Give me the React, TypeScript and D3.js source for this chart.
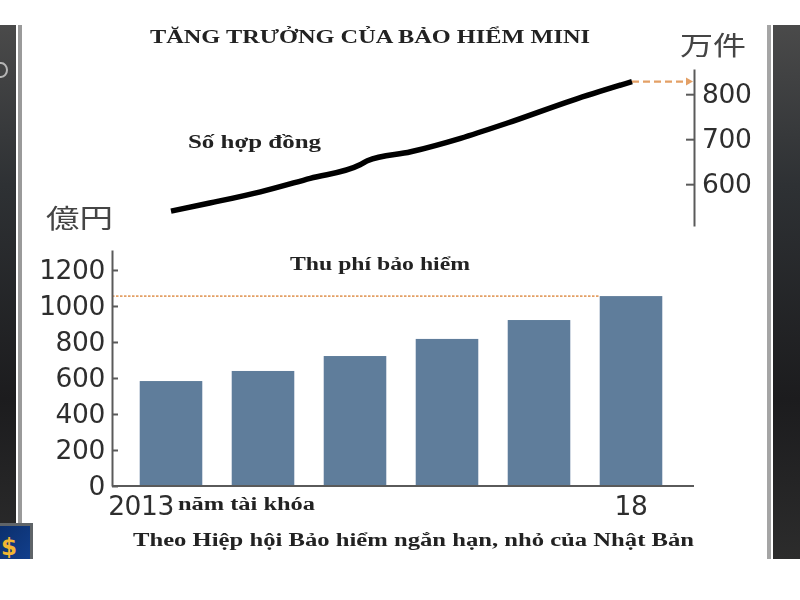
import { useEffect, useRef } from "react";
import * as d3 from "d3";

const YEARS = ["2013", "14", "15", "16", "17", "18"];
const PREMIUMS = [583, 639, 722, 817, 922, 1055];
const PREMIUM_TICKS = [0, 200, 400, 600, 800, 1000, 1200];
const CONTRACT_TICKS = [600, 700, 800];
// position along the year axis (0 = 2013, 5 = 2018)
const CONTRACT_T = [0, 0.42, 0.97, 1.51, 2.05, 2.13, 2.6, 3.14, 3.65, 4.36, 5];
const CONTRACT_VALUES = [540, 558, 583, 613, 643, 652, 672, 702, 736, 787, 828];

const TEXT_COLOR = "#2f2f2f";
const AXIS_COLOR = "#5a5a5a";
const BAR_COLOR = "#5f7d9b";
const DASH_COLOR = "#e3a066";
const SERIF = "'Liberation Serif', serif";
const SANS = "'DejaVu Sans', sans-serif";
const CJK = "'Noto Sans CJK JP', sans-serif";

const xBand = d3.scaleBand<string>().domain(YEARS).range([125, 677]).paddingInner(0.32).paddingOuter(0.16);
const yPremium = d3.scaleLinear().domain([0, 1311]).range([486, 250]);
const yContract = d3.scaleLinear().domain([507, 856]).range([226, 69]);
const xContract = d3
  .scaleLinear()
  .domain([0, 5])
  .range([
    (xBand("2013") as number) + xBand.bandwidth() / 2,
    (xBand("18") as number) + xBand.bandwidth() / 2 + 1,
  ]);

function Caption({ x, y, width, children }: { x: number; y: number; width: number; children: string }) {
  return (
    <text
      x={x}
      y={y}
      textLength={width}
      lengthAdjust="spacingAndGlyphs"
      fontFamily={SERIF}
      fontWeight="bold"
      fontSize={18}
      fill="#222"
    >
      {children}
    </text>
  );
}

function App() {
  const leftAxis = useRef<SVGGElement>(null);
  const rightAxis = useRef<SVGGElement>(null);

  useEffect(() => {
    const styleAxis = (g: d3.Selection<SVGGElement, unknown, null, undefined>) => {
      g.selectAll("path, line").attr("stroke", AXIS_COLOR).attr("stroke-width", 2);
      g.selectAll("text")
        .attr("fill", TEXT_COLOR)
        .attr("font-family", SANS)
        .attr("font-size", 26.5)
        .attr("letter-spacing", -0.4);
      g.attr("font-family", null).attr("font-size", null);
    };
    const left = d3.select(leftAxis.current as SVGGElement);
    left.call(
      d3.axisLeft(yPremium).tickValues(PREMIUM_TICKS).tickFormat(d3.format("d")).tickSize(-6).tickSizeOuter(0).tickPadding(7)
    );
    styleAxis(left);
    const right = d3.select(rightAxis.current as SVGGElement);
    right.call(
      d3.axisRight(yContract).tickValues(CONTRACT_TICKS).tickFormat(d3.format("d")).tickSize(-8).tickSizeOuter(0).tickPadding(8)
    );
    styleAxis(right);
  }, []);

  const line = d3
    .line<number>()
    .x((_, i) => xContract(CONTRACT_T[i]))
    .y((d) => yContract(d))
    .curve(d3.curveMonotoneX);

  const lastX = xContract(5);
  const lastY = yContract(CONTRACT_VALUES[CONTRACT_VALUES.length - 1]);
  const topBar = yPremium(PREMIUMS[PREMIUMS.length - 1]);

  return (
    <svg width={800} height={600} style={{ position: "absolute", left: 0, top: 0 }}>
      <defs>
        <linearGradient id="panel" x1="0" y1="0" x2="0" y2="1">
          <stop offset="0" stopColor="#4a4a4a" />
          <stop offset="0.3" stopColor="#2e3134" />
          <stop offset="0.7" stopColor="#1c1c1e" />
          <stop offset="1" stopColor="#2c2c2c" />
        </linearGradient>
        <linearGradient id="badge" x1="0" y1="0" x2="1" y2="1">
          <stop offset="0" stopColor="#0b2f6d" />
          <stop offset="1" stopColor="#123f8c" />
        </linearGradient>
        <filter id="soft" x="-5%" y="-5%" width="110%" height="110%">
          <feGaussianBlur stdDeviation="0.55" />
        </filter>
      </defs>

      <rect width={800} height={600} fill="#fff" />
      <rect x={0} y={25} width={16} height={534} fill="url(#panel)" />
      <rect x={18} y={25} width={4} height={534} fill="#9a9a9a" />
      <rect x={767} y={25} width={4} height={534} fill="#a5a5a5" />
      <rect x={773} y={25} width={27} height={534} fill="url(#panel)" />
      <ellipse cx={1} cy={70} rx={6} ry={7} fill="none" stroke="#b5b5b5" strokeWidth={2} />
      <rect x={0} y={523} width={33} height={36} fill="#5f6468" />
      <rect x={0} y={526} width={30} height={33} fill="url(#badge)" />
      <text x={9} y={555} textAnchor="middle" fontFamily={SANS} fontWeight="bold" fontSize={23} fill="#f2b632">
        $
      </text>

      <g filter="url(#soft)">
        {YEARS.map((year, i) => (
          <rect
            key={year}
            x={xBand(year)}
            y={yPremium(PREMIUMS[i])}
            width={xBand.bandwidth()}
            height={yPremium(0) - yPremium(PREMIUMS[i])}
            fill={BAR_COLOR}
          />
        ))}

        <line x1={112} x2={600} y1={topBar} y2={topBar} stroke={DASH_COLOR} strokeWidth={1.8} strokeDasharray="2.5 1.5" />
        <line x1={lastX} x2={688} y1={lastY} y2={lastY} stroke={DASH_COLOR} strokeWidth={2.2} strokeDasharray="7 4" />
        <path d={d3.line()([[686, lastY - 4], [693, lastY], [686, lastY + 4]]) + "Z"} fill={DASH_COLOR} />

        <path d={line(CONTRACT_VALUES) || ""} fill="none" stroke="#000" strokeWidth={5.5} />

        <g ref={leftAxis} transform="translate(112,0)" />
        <g ref={rightAxis} transform="translate(694,0)" />
        <line x1={112} x2={694} y1={yPremium(0)} y2={yPremium(0)} stroke={AXIS_COLOR} strokeWidth={2} />

        <text x={174} y={515} textAnchor="end" fontFamily={SANS} fontSize={26.5} letterSpacing={-0.4} fill={TEXT_COLOR}>
          {YEARS[0]}
        </text>
        <text x={631} y={515} textAnchor="middle" fontFamily={SANS} fontSize={26.5} letterSpacing={-0.4} fill={TEXT_COLOR}>
          {YEARS[5]}
        </text>

        <Caption x={150} y={43} width={440}>TĂNG TRƯỞNG CỦA BẢO HIỂM MINI</Caption>
        <Caption x={188} y={148} width={133}>Số hợp đồng</Caption>
        <Caption x={290} y={270} width={180}>Thu phí bảo hiểm</Caption>
        <Caption x={178} y={510} width={137}>năm tài khóa</Caption>
        <Caption x={133} y={546} width={561}>Theo Hiệp hội Bảo hiểm ngắn hạn, nhỏ của Nhật Bản</Caption>

        <text x={46} y={228} textLength={67} lengthAdjust="spacingAndGlyphs" fontFamily={CJK} fontSize={26} fill="#444">
          億円
        </text>
        <text x={680} y={55} textLength={66} lengthAdjust="spacingAndGlyphs" fontFamily={CJK} fontSize={26} fill="#444">
          万件
        </text>
      </g>
    </svg>
  );
}

export default App;
